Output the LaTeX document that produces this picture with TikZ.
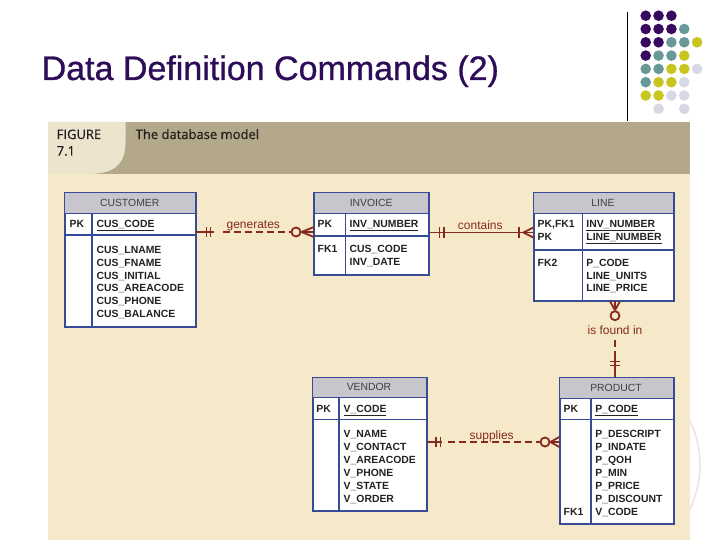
\documentclass[tikz,border=0pt]{standalone}
\usepackage{fontspec}
\setmainfont{Liberation Sans}
\newfontfamily\figfont[FakeBold=0.5]{Open Sans}
\newfontfamily\titlefont[FakeBold=0.8]{Liberation Sans}
\usetikzlibrary{calc}
\definecolor{titlecol}{RGB}{45,12,88}
\definecolor{dotP}{RGB}{55,10,95}
\definecolor{dotT}{RGB}{104,152,152}
\definecolor{dotY}{RGB}{200,198,30}
\definecolor{dotL}{RGB}{215,215,230}
\definecolor{bandcol}{RGB}{180,168,138}
\definecolor{tabcol}{RGB}{236,228,205}
\definecolor{cream}{RGB}{246,233,202}
\definecolor{tblblue}{RGB}{55,75,150}
\definecolor{hdrgray}{RGB}{198,198,204}
\definecolor{hdrtxt}{RGB}{64,64,64}
\definecolor{fldtxt}{RGB}{34,34,34}
\definecolor{relcol}{RGB}{135,42,30}
\definecolor{figtxt}{RGB}{35,30,30}
\definecolor{faint}{RGB}{228,228,233}
\tikzset{
  tbl/.style={draw=tblblue, line width=1.2pt, fill=white, inner sep=0pt, anchor=north west},
  tblline/.style={draw=tblblue, line width=1.2pt},
  hdrtext/.style={font=\fontsize{10.4}{12}\selectfont, text=hdrtxt, inner sep=0pt},
  fld/.style={font=\fontsize{10.4}{12}\selectfont\bfseries, text=fldtxt, anchor=base west, inner sep=0pt},
  rel/.style={draw=relcol, line width=1.8pt},
  reldash/.style={rel, dash pattern=on 7pt off 4pt},
  rellabel/.style={font=\fontsize{12}{14}\selectfont, text=relcol, anchor=base, inner sep=0pt},
  optcircle/.style={circle, draw=relcol, line width=1.8pt, fill=cream, minimum size=9pt, inner sep=0pt},
  figtext/.style={font=\figfont\fontsize{13}{15}\selectfont, text=figtxt, anchor=base west, inner sep=0pt},
}
% name, x1, y1, x2, y2, header bottom, pk bottom, divider x, title
\newcommand\ertable[9]{%
  \node[tbl, minimum width={(#4)-(#2)}, minimum height={(#5)-(#3)}] (#1) at (#2,#3) {};
  \fill[hdrgray] (#2,#3) rectangle (#4,#6);
  \draw[tblline] (#2,#6) -- (#4,#6) (#2,#7) -- (#4,#7) (#8,#6) -- (#8,#5);
  \draw[tblline] (#1.north west) rectangle (#1.south east);
  \node[hdrtext] (#1-title) at ({((#2)+(#4))/2},{((#3)+(#6))/2}) {#9};
}
\begin{document}
\begin{tikzpicture}[x=1pt,y=-1pt]
\useasboundingbox (0,0) rectangle (720,540);
\fill[white] (0,0) rectangle (720,540);
% faint template arc
\draw[faint, line width=1.5pt] (600,465) circle (100);
% title
\node[anchor=base west, font=\titlefont\fontsize{34}{40}\selectfont, text=titlecol, inner sep=0pt] (title) at (41.5,80) {Data Definition Commands (2)};
% vertical rule and dots
\draw[line width=1pt, black] (627,12) -- (627,121);
\foreach \row/\cols [count=\r from 0] in {
  0/{P,P,P},
  1/{P,P,P,T},
  2/{P,P,T,T,Y},
  3/{P,T,T,Y},
  4/{T,T,Y,Y,L},
  5/{T,Y,Y,L},
  6/{Y,Y,L,L}} {
  \foreach \c [count=\k from 0] in \cols {
    \fill[dot\c] ({645.7+12.85*\k},{15.7+13.3*\r}) circle (5.3);
  }
}
\fill[dotL] ({645.7+12.85},{15.7+13.3*7}) circle (5.3);
\fill[dotL] ({645.7+12.85*3},{15.7+13.3*7}) circle (5.3);
% figure background
\fill[cream] (48,174) rectangle (690,540);
\fill[bandcol] (48,122) rectangle (690,174);
\fill[tabcol] (48,122) -- (125.5,122) -- (125.5,142) .. controls (125.5,166) and (112,174) .. (88,174) -- (48,174) -- cycle;
\node[figtext] (fig) at (56.5,139) {FIGURE};
\node[figtext] (fignum) at (56.5,155.5) {7.1};
\node[figtext] (figtitle) at (135.5,139) {The database model};
% tables
\ertable{cust}{64.7}{192.3}{194.7}{325.7}{213.3}{235}{92}{CUSTOMER}
\ertable{inv}{314}{192.3}{428.3}{274}{213.3}{236}{345.7}{INVOICE}
\ertable{line}{533.3}{192.7}{672.7}{300}{213.3}{250}{582.7}{LINE}
\ertable{vend}{312.3}{377.3}{425.7}{510}{397.3}{419.3}{339}{VENDOR}
\ertable{prod}{559.3}{377.3}{672.7}{523.3}{398.3}{419.3}{591}{PRODUCT}
% CUSTOMER fields
\node[fld] (cu-pk) at (69.5,227.5) {PK};
\node[fld] (cu-k) at (96.5,227.5) {\underline{CUS\_CODE}};
\foreach \t [count=\i from 0] in {CUS\_LNAME,CUS\_FNAME,CUS\_INITIAL,CUS\_AREACODE,CUS\_PHONE,CUS\_BALANCE}
  \node[fld] (cu-f\i) at (96.5,{253.5+12.8*\i}) {\t};
% INVOICE fields
\node[fld] (in-pk) at (317.5,227.5) {PK};
\node[fld] (in-k) at (349.5,227.5) {\underline{INV\_NUMBER}};
\node[fld] (in-fk) at (317.5,252.5) {FK1};
\node[fld] (in-f0) at (349.5,252.5) {CUS\_CODE};
\node[fld] (in-f1) at (349.5,265.3) {INV\_DATE};
% LINE fields
\node[fld] (li-pk1) at (537.5,227.5) {PK,FK1};
\node[fld] (li-pk2) at (537.5,240.8) {PK};
\node[fld] (li-k1) at (586.2,227.5) {\underline{INV\_NUMBER}};
\node[fld] (li-k2) at (586.2,240.8) {\underline{LINE\_NUMBER}};
\node[fld] (li-fk) at (537.5,266.2) {FK2};
\node[fld] (li-f0) at (586.2,266.2) {P\_CODE};
\node[fld] (li-f1) at (586.2,279) {LINE\_UNITS};
\node[fld] (li-f2) at (586.2,291.8) {LINE\_PRICE};
% VENDOR fields
\node[fld] (ve-pk) at (316.2,412.8) {PK};
\node[fld] (ve-k) at (343.5,412.8) {\underline{V\_CODE}};
\foreach \t [count=\i from 0] in {V\_NAME,V\_CONTACT,V\_AREACODE,V\_PHONE,V\_STATE,V\_ORDER}
  \node[fld] (ve-f\i) at (343.5,{437.5+12.9*\i}) {\t};
% PRODUCT fields
\node[fld] (pr-pk) at (563.5,412.8) {PK};
\node[fld] (pr-k) at (595.2,412.8) {\underline{P\_CODE}};
\foreach \t [count=\i from 0] in {P\_DESCRIPT,P\_INDATE,P\_QOH,P\_MIN,P\_PRICE,P\_DISCOUNT,V\_CODE}
  \node[fld] (pr-f\i) at (595.2,{437.5+12.95*\i}) {\t};
\node[fld] (pr-fk) at (563.5,515.2) {FK1};
% --- generates (CUSTOMER - INVOICE)
\coordinate (gS) at (cust.east |- 0,232);
\coordinate (gE) at (inv.west |- 0,232);
\node[optcircle] (gO) at ($(gE)+(-18,0)$) {};
\draw[rel] (gS) -- ($(gS)+(18,0)$);
\draw[rel] ($(gS)+(10.5,-5)$) -- ($(gS)+(10.5,5)$);
\draw[rel] ($(gS)+(14.5,-5)$) -- ($(gS)+(14.5,5)$);
\draw[reldash] ($(gS)+(27,0)$) -- (gO.west);
\draw[rel] (gO.east) -- (gE) (gO.east) -- ($(gE)+(0,-5)$) (gO.east) -- ($(gE)+(0,5)$);
\node[rellabel] (gL) at (253.3,229) {generates};
% --- contains (INVOICE - LINE)
\coordinate (cS) at (inv.east |- 0,232.5);
\coordinate (cE) at (line.west |- 0,232.5);
\draw[rel] (cS) -- (cE);
\draw[rel] ($(cS)+(10,-5)$) -- ($(cS)+(10,5)$);
\draw[rel] ($(cS)+(14.4,-5)$) -- ($(cS)+(14.4,5)$);
\draw[rel] ($(cE)+(-14.3,-5)$) -- ($(cE)+(-14.3,5)$);
\draw[rel] ($(cE)+(-10,0)$) -- ($(cE)+(0,-5)$) ($(cE)+(-10,0)$) -- ($(cE)+(0,5)$);
\node[rellabel] (cL) at (480.3,229.3) {contains};
% --- is found in (LINE - PRODUCT)
\coordinate (fS) at (615,0 |- line.south);
\coordinate (fE) at (615,0 |- prod.north);
\node[optcircle] (fO) at ($(fS)+(0,14.5)$) {};
\draw[rel] (fO.north) -- (fS) (fO.north) -- ($(fS)+(-5,0)$) (fO.north) -- ($(fS)+(5,0)$);
\node[rellabel] (fL) at (615,334) {is found in};
\draw[reldash] ($(fE)+(0,-37)$) -- ($(fE)+(0,-21)$);
\draw[rel] ($(fE)+(0,-21)$) -- (fE);
\draw[rel] ($(fE)+(-5,-15.8)$) -- ($(fE)+(5,-15.8)$);
\draw[rel] ($(fE)+(-5,-11.8)$) -- ($(fE)+(5,-11.8)$);
% --- supplies (VENDOR - PRODUCT)
\coordinate (sS) at (vend.east |- 0,442);
\coordinate (sE) at (prod.west |- 0,442);
\node[optcircle] (sO) at ($(sE)+(-14.3,0)$) {};
\draw[rel] (sS) -- ($(sS)+(15,0)$);
\draw[rel] ($(sS)+(9.3,-5)$) -- ($(sS)+(9.3,5)$);
\draw[rel] ($(sS)+(13.6,-5)$) -- ($(sS)+(13.6,5)$);
\draw[reldash] ($(sS)+(21,0)$) -- (sO.west);
\draw[rel] (sO.east) -- (sE) (sO.east) -- ($(sE)+(0,-5)$) (sO.east) -- ($(sE)+(0,5)$);
\node[rellabel] (sL) at (491.7,439.3) {supplies};
\end{tikzpicture}
\end{document}
